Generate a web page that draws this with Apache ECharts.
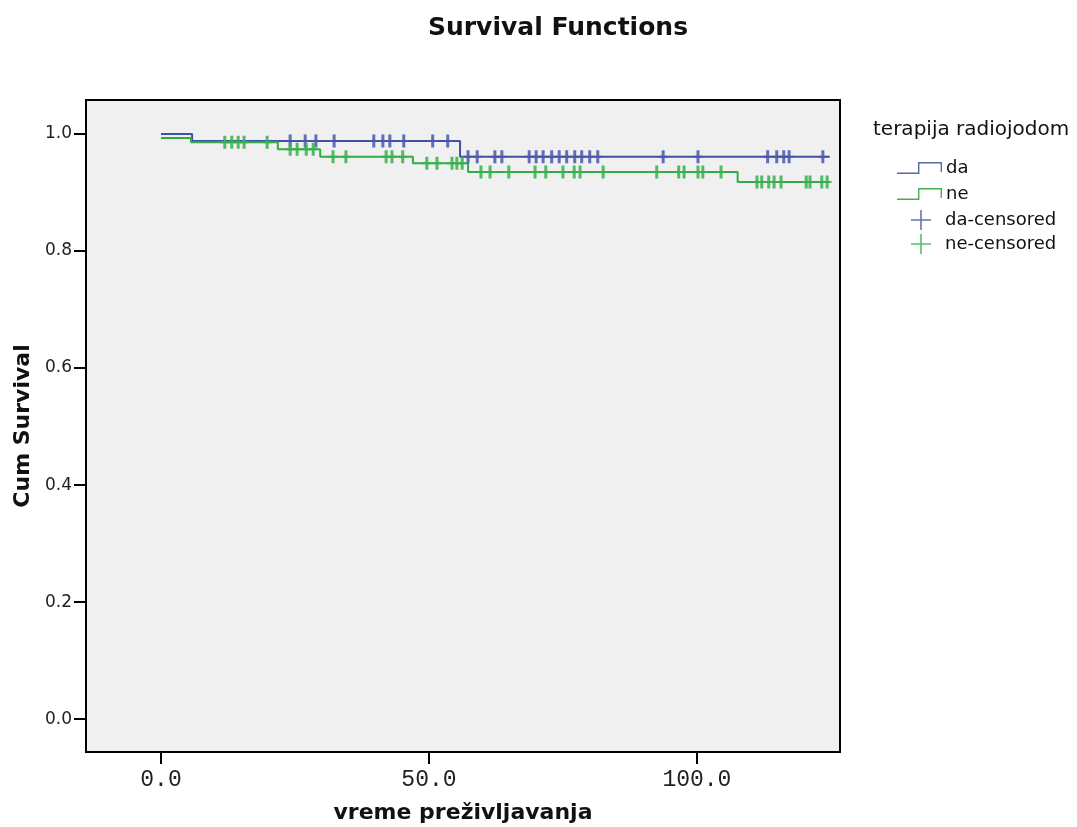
<!DOCTYPE html>
<html>
<head>
<meta charset="utf-8">
<script src="https://cdn.jsdelivr.net/npm/echarts@6/dist/echarts.min.js"></script>
<style>
html,body{margin:0;padding:0;background:#fff;}
#chart{width:1077px;height:827px;}
</style>
</head>
<body>
<div id="chart"></div>
<script>
// ---- data ----
const groupNames = ['da', 'ne'];
const censorNames = ['da-censored', 'ne-censored'];
const legendTitle = 'terapija radiojodom';

// Kaplan-Meier steps: value holds from time[i] until time[i+1]
const daTimes = [0, 5.8, 55.8, 124.8];
const daSurv  = [1.0, 0.988, 0.961, 0.961];
const neTimes = [0, 5.6, 21.8, 29.7, 47.0, 57.3, 107.6, 124.8];
const neSurv  = [0.993, 0.986, 0.974, 0.961, 0.950, 0.935, 0.918, 0.918];

// censored observation times
const daCensor = [24.1, 26.9, 28.9, 32.3, 39.7, 41.4, 42.7, 45.3, 50.7, 53.5,
  57.3, 59.0, 62.3, 63.6, 68.7, 70.0, 71.3, 72.9, 74.3, 75.7, 77.2, 78.5, 80.0,
  81.5, 93.7, 100.2, 113.2, 114.9, 116.2, 117.2, 123.5];
const neCensor = [11.9, 13.2, 14.4, 15.5, 19.8, 24.1, 25.4, 27.1, 28.4, 32.1,
  34.5, 42.0, 43.1, 45.1, 49.6, 51.5, 54.3, 55.2, 56.2, 59.7, 61.4, 64.9, 69.8,
  71.8, 75.0, 77.1, 78.2, 82.5, 92.5, 96.6, 97.6, 100.2, 101.1, 104.5, 111.2,
  112.1, 113.4, 114.4, 115.7, 120.4, 121.1, 123.3, 124.3];

const xTicks = [0, 50, 100];
const yTicks = [0, 0.2, 0.4, 0.6, 0.8, 1.0];

// ---- helpers ----
function stepAt(times, surv, t) {
  let v = surv[0];
  for (let i = 0; i < times.length; i++) { if (times[i] <= t) v = surv[i]; }
  return v;
}
const pairs = (ts, vs) => ts.map((t, i) => [t, vs[i]]);

const BLUE = '#3f50a6', GREEN = '#33ac47';
const BLUE_C = '#4757ad', GREEN_C = '#36b04b';
const stepIcon = 'path://M0,10.5 H21 V0 H45 V10 H43.6 V1.4 H22.4 V12 H0 Z';
const plusIcon = 'path://M9.2,0 H10.8 V9.2 H20 V10.8 H10.8 V20 H9.2 V10.8 H0 V9.2 H9.2 Z';
const markPath = 'path://M3,0 H6 V5.5 H9 V7.5 H6 V13 H3 V7.5 H0 V5.5 H3 Z';

const chart = echarts.init(document.getElementById('chart'));
chart.setOption({
  backgroundColor: '#ffffff',
  animation: false,
  title: [
    { text: 'Survival Functions', left: 553, top: 11, textAlign: 'center',
      textStyle: { fontFamily: 'DejaVu Sans', fontWeight: 'bold', fontSize: 25, color: '#111' } },
    { text: legendTitle, left: 868, top: 115,
      textStyle: { fontFamily: 'DejaVu Sans', fontWeight: 'normal', fontSize: 20, color: '#111' } }
  ],
  legend: [
    { orient: 'vertical', left: 892, top: 153, itemWidth: 45, itemHeight: 12, itemGap: 6,
      data: [{ name: 'da', icon: stepIcon, itemStyle: { color: '#5868ab' } },
             { name: 'ne', icon: stepIcon, itemStyle: { color: '#47ad57' } }],
      itemStyle: { borderWidth: 0 },
      textStyle: { fontFamily: 'DejaVu Sans', fontSize: 18, color: '#111', lineHeight: 20, padding: [0, 0, 0, -1] } },
    { orient: 'vertical', left: 906, top: 205, itemWidth: 20, itemHeight: 20, itemGap: 4,
      data: [{ name: 'da-censored', icon: plusIcon, itemStyle: { color: '#4a5aa8' } },
             { name: 'ne-censored', icon: plusIcon, itemStyle: { color: '#3fb150' } }],
      itemStyle: { borderWidth: 0 },
      textStyle: { fontFamily: 'DejaVu Sans', fontSize: 18, color: '#111', lineHeight: 20, padding: [0, 0, 0, 9] } }
  ],
  grid: { left: 86, right: 237, top: 100, bottom: 75, show: true, containLabel: false,
    outerBoundsMode: 'none',
    backgroundColor: '#f0f0f0', borderColor: '#000', borderWidth: 2 },
  xAxis: {
    type: 'value', min: -14, max: 126.7,
    name: 'vreme preživljavanja', nameLocation: 'middle', nameGap: 50,
    nameTextStyle: { fontFamily: 'DejaVu Sans', fontWeight: 'bold', fontSize: 22, color: '#111' },
    axisLine: { show: true, onZero: false, lineStyle: { color: '#000', width: 2 } },
    axisTick: { show: true, length: 12, customValues: xTicks, lineStyle: { color: '#000', width: 2 } },
    axisLabel: { customValues: xTicks, margin: 16, formatter: v => v.toFixed(1),
      fontFamily: 'Liberation Mono', fontSize: 23, color: '#222' },
    splitLine: { show: false }
  },
  yAxis: {
    type: 'value', min: -0.056, max: 1.058,
    name: 'Cum Survival', nameLocation: 'middle', nameGap: 52, nameRotate: 90,
    nameTextStyle: { fontFamily: 'DejaVu Sans', fontWeight: 'bold', fontSize: 22, color: '#111' },
    axisLine: { show: true, onZero: false, lineStyle: { color: '#000', width: 2 } },
    axisTick: { show: true, length: 12, customValues: yTicks, lineStyle: { color: '#000', width: 2 } },
    axisLabel: { customValues: yTicks, margin: 14, formatter: v => v.toFixed(1),
      fontFamily: 'DejaVu Sans', fontSize: 17, color: '#222' },
    splitLine: { show: false }
  },
  series: [
    { name: 'da', type: 'line', step: 'end', showSymbol: false, data: pairs(daTimes, daSurv),
      itemStyle: { color: BLUE }, lineStyle: { color: BLUE, width: 2 }, z: 2 },
    { name: 'ne', type: 'line', step: 'end', showSymbol: false, data: pairs(neTimes, neSurv),
      itemStyle: { color: GREEN }, lineStyle: { color: GREEN, width: 2 }, z: 3 },
    { name: 'da-censored', type: 'scatter', symbol: markPath, symbolSize: [9, 13],
      data: daCensor.map(t => [t, stepAt(daTimes, daSurv, t)]),
      itemStyle: { color: BLUE_C, opacity: 0.85 }, z: 4 },
    { name: 'ne-censored', type: 'scatter', symbol: markPath, symbolSize: [9, 13],
      data: neCensor.map(t => [t, stepAt(neTimes, neSurv, t)]),
      itemStyle: { color: GREEN_C, opacity: 0.85 }, z: 5 }
  ]
});
</script>
</body>
</html>
